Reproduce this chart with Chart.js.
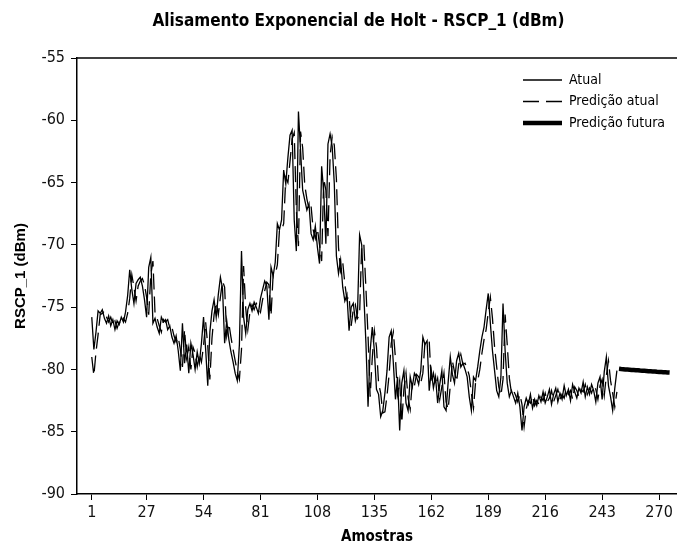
<!DOCTYPE html>
<html lang="pt">
<head>
<meta charset="utf-8">
<title>Alisamento Exponencial de Holt - RSCP_1</title>
<script src="https://cdn.jsdelivr.net/npm/chart.js@4.4.1/dist/chart.umd.min.js"></script>
<style>
  html, body { margin: 0; padding: 0; background: #fff; }
  #wrap { width: 677px; height: 546px; }
</style>
</head>
<body>
<div id="wrap"><canvas id="holtChart" width="677" height="546"></canvas></div>
<script>
// RSCP_1 (dBm) por amostra: medido, previsto no ajuste e previsão futura (Holt)
const titulo = 'Alisamento Exponencial de Holt - RSCP_1 (dBm)';
const xTicks = [1, 27, 54, 81, 108, 135, 162, 189, 216, 243, 270];
const yTicks = [-90, -85, -80, -75, -70, -65, -60, -55];
const rotulos = ['Atual', 'Predição atual', 'Predição futura'];

const atual = [
  -75.8, -78.4, -77.0, -75.3, -75.5, -75.2, -75.9, -76.3, -75.7, -76.5,
  -76.0, -76.8, -76.1, -76.4, -75.8, -76.2, -75.4, -74.1, -72.0, -73.6,
  -74.7, -73.1, -72.8, -72.6, -73.3, -74.4, -75.8, -71.8, -71.0, -76.3,
  -75.9, -76.6, -77.1, -75.8, -76.2, -76.0, -76.8, -76.5, -77.4, -77.9,
  -77.3, -78.5, -80.1, -76.3, -79.5, -78.0, -80.3, -77.9, -78.8, -80.0,
  -78.6, -79.5, -77.9, -75.8, -78.4, -81.3, -77.0, -75.3, -74.4, -75.8,
  -74.0, -72.6, -73.5, -77.9, -76.1, -77.6, -78.6, -79.4, -80.3, -80.9,
  -78.0, -70.5, -75.8, -77.1, -75.2, -74.7, -75.3, -74.6, -75.0, -75.5,
  -74.3, -73.6, -72.9, -73.3, -76.0, -71.8, -72.5, -71.4, -68.3, -68.8,
  -68.0, -64.0, -65.1, -63.0, -61.2, -60.8, -68.0, -70.5, -59.3, -62.4,
  -65.6, -66.4, -67.2, -66.7, -69.1, -69.6, -68.5, -70.2, -71.5, -63.7,
  -65.8, -69.9, -61.9, -61.1, -62.1, -65.1, -70.9, -72.3, -71.2, -73.4,
  -74.5, -74.0, -76.9, -75.0, -74.7, -76.1, -75.5, -69.2, -70.0, -74.0,
  -77.9, -83.0, -78.5, -76.6, -78.5, -81.6, -82.0, -83.8, -83.3, -81.9,
  -80.1, -77.4, -76.9, -79.5, -82.4, -80.6, -84.9, -81.1, -80.1, -82.7,
  -83.3, -80.6, -81.4, -80.3, -80.6, -81.2, -80.1, -77.4, -78.0, -77.7,
  -81.7, -80.1, -81.5, -80.6, -82.7, -81.2, -80.1, -83.0, -83.3, -81.0,
  -79.0, -80.4, -81.1, -79.3, -78.7, -79.8, -79.5, -80.0, -80.6, -82.2,
  -83.3, -80.6, -80.9, -79.8, -78.5, -77.4, -76.6, -75.2, -73.9, -76.3,
  -78.5, -80.1, -81.7, -82.2, -80.6, -74.7, -78.5, -81.1, -82.2, -81.7,
  -82.2, -82.7, -81.9, -83.0, -84.9, -83.0, -82.3, -82.8, -82.0, -83.1,
  -82.4, -82.9, -82.1, -82.6, -81.8, -82.7, -82.2, -81.6, -82.8, -82.0,
  -81.5, -82.6, -81.9, -82.4, -81.3, -82.1, -81.6, -82.5, -81.2, -81.8,
  -82.3, -81.5, -81.9, -81.0, -82.2, -81.4, -82.0, -81.2, -81.7, -82.6,
  -81.1, -80.6, -82.4, -80.2, -79.0, -81.3, -82.2, -83.3, -81.5, -80.1
];

const predAtual = [
  -79.0, -80.5, -78.6, -77.2, -75.6, -75.5, -75.3, -75.8, -76.2, -75.8,
  -76.4, -76.1, -76.7, -76.2, -76.4, -75.9, -76.2, -75.5, -74.3, -72.4,
  -73.4, -74.5, -73.3, -72.9, -72.7, -73.2, -74.2, -75.6, -72.4, -71.3,
  -75.5, -75.9, -76.5, -77.0, -76.0, -76.2, -76.0, -76.7, -76.6, -77.3,
  -77.8, -77.4, -78.4, -79.8, -76.8, -79.1, -78.2, -80.0, -78.2, -78.7,
  -79.8, -78.8, -79.4, -78.1, -76.2, -78.1, -80.8, -77.5, -75.6, -74.6,
  -75.6, -74.2, -72.9, -73.4, -77.3, -76.3, -77.4, -78.4, -79.3, -80.2,
  -80.8, -78.4, -71.7, -75.1, -76.8, -75.4, -74.8, -75.2, -74.7, -75.0,
  -75.4, -74.4, -73.7, -73.0, -73.2, -75.7, -72.4, -72.4, -71.6, -68.8,
  -68.8, -68.3, -64.6, -65.0, -63.3, -61.5, -61.0, -67.1, -70.1, -60.9,
  -62.2, -65.2, -66.3, -67.1, -66.9, -68.8, -69.5, -68.7, -70.0, -71.3,
  -64.7, -65.6, -69.3, -62.9, -61.3, -62.0, -64.7, -70.2, -72.1, -71.4,
  -73.1, -74.4, -74.1, -76.5, -75.2, -74.8, -75.9, -75.6, -70.0, -69.9,
  -73.5, -77.3, -82.2, -79.1, -76.9, -78.2, -81.1, -81.9, -83.5, -83.4,
  -82.1, -80.4, -77.9, -77.0, -79.1, -82.0, -80.9, -84.3, -81.6, -80.3,
  -82.3, -83.2, -81.0, -81.3, -80.4, -80.6, -81.1, -80.3, -77.8, -77.9,
  -77.7, -81.1, -80.3, -81.3, -80.7, -82.4, -81.4, -80.3, -82.6, -83.2,
  -81.3, -79.3, -80.2, -81.0, -79.6, -78.8, -79.6, -79.5, -79.9, -80.5,
  -81.9, -83.1, -81.0, -80.9, -80.0, -78.7, -77.6, -76.8, -75.4, -74.2,
  -75.9, -78.2, -79.8, -81.4, -82.1, -80.8, -75.6, -78.0, -80.7, -81.9,
  -81.7, -82.1, -82.6, -82.0, -82.8, -84.6, -83.2, -82.5, -82.7, -82.1,
  -82.9, -82.5, -82.8, -82.2, -82.5, -81.9, -82.6, -82.3, -81.7, -82.6,
  -82.1, -81.6, -82.4, -82.0, -82.3, -81.5, -82.0, -81.7, -82.4, -81.4,
  -81.7, -82.2, -81.6, -81.8, -81.2, -82.0, -81.5, -81.9, -81.3, -81.6,
  -82.4, -81.3, -80.8, -82.1, -80.5, -79.3, -80.9, -81.9, -83.0, -81.8
];

const inicioFutura = 251;
const predFutura = [
  -79.95, -79.97, -79.98, -80.00, -80.01, -80.02, -80.04, -80.05, -80.06, -80.07,
  -80.09, -80.10, -80.11, -80.12, -80.14, -80.15, -80.16, -80.17, -80.19, -80.20,
  -80.21, -80.22, -80.23, -80.24, -80.25
];

const fonte = "'DejaVu Sans Condensed', 'DejaVu Sans', sans-serif";

function pontos(valores, primeiro) {
  return valores.map((v, i) => ({ x: primeiro + i, y: v }));
}

// titulo e moldura superior
const molduraTitulo = {
  id: 'molduraTitulo',
  afterDraw(chart) {
    const { ctx, chartArea } = chart;
    ctx.save();
    ctx.strokeStyle = '#000';
    ctx.lineWidth = 1.5;
    ctx.beginPath();
    ctx.moveTo(chartArea.left, chartArea.top);
    ctx.lineTo(chartArea.right, chartArea.top);
    ctx.stroke();
    ctx.fillStyle = '#000';
    ctx.font = 'bold 17px ' + fonte;
    ctx.textAlign = 'center';
    ctx.textBaseline = 'middle';
    ctx.fillText(titulo, chart.width / 2 + 20, 22);
    ctx.restore();
  }
};

// legenda dentro da area do grafico, canto superior direito
const legendaInterna = {
  id: 'legendaInterna',
  afterDatasetsDraw(chart) {
    const { ctx, chartArea } = chart;
    const x0 = chartArea.right - 154;
    const y0 = chartArea.top + 22;
    ctx.save();
    ctx.font = '14px ' + fonte;
    ctx.textBaseline = 'middle';
    ctx.fillStyle = '#000';
    chart.data.datasets.forEach((ds, i) => {
      const y = y0 + i * 21.5;
      ctx.strokeStyle = ds.borderColor;
      ctx.lineWidth = ds.borderWidth;
      ctx.setLineDash(ds.borderDash || []);
      ctx.beginPath();
      ctx.moveTo(x0, y);
      ctx.lineTo(x0 + 39, y);
      ctx.stroke();
      ctx.setLineDash([]);
      ctx.fillText(ds.label, x0 + 46, y);
    });
    ctx.restore();
  }
};

const ctx = document.getElementById('holtChart').getContext('2d');
new Chart(ctx, {
  type: 'line',
  data: {
    datasets: [
      { label: rotulos[0], data: pontos(atual, 1), borderColor: '#000', borderWidth: 1.3 },
      { label: rotulos[1], data: pontos(predAtual, 1), borderColor: '#000', borderWidth: 1.3, borderDash: [16, 7] },
      { label: rotulos[2], data: pontos(predFutura, inicioFutura), borderColor: '#000', borderWidth: 4.5 }
    ]
  },
  options: {
    responsive: false,
    animation: false,
    devicePixelRatio: 1,
    layout: { padding: { top: 58, right: 0, bottom: 0, left: 0 } },
    elements: { point: { radius: 0 }, line: { tension: 0, fill: false } },
    plugins: { legend: { display: false }, tooltip: { enabled: false }, title: { display: false } },
    scales: {
      x: {
        type: 'linear',
        min: -6,
        max: 278.5,
        afterBuildTicks: s => { s.ticks = xTicks.map(v => ({ value: v })); },
        afterFit: s => { s.height = 52; },
        ticks: { autoSkip: false, maxRotation: 0, padding: 3, color: '#111', font: { family: fonte, size: 16 } },
        grid: { drawOnChartArea: false, tickLength: 6, color: '#000', lineWidth: 1 },
        border: { color: '#000', width: 1.5 },
        title: { display: true, text: 'Amostras', color: '#000', padding: { top: 0, bottom: 0 },
                 font: { family: fonte, size: 15, weight: 'bold' } }
      },
      y: {
        min: -90,
        max: -55,
        afterBuildTicks: s => { s.ticks = yTicks.map(v => ({ value: v })); },
        afterFit: s => { s.width = 77; },
        ticks: { padding: 6, color: '#111', font: { family: fonte, size: 16 } },
        grid: { drawOnChartArea: false, tickLength: 6, color: '#000', lineWidth: 1 },
        border: { color: '#000', width: 1.5 },
        title: { display: true, text: 'RSCP_1 (dBm)', color: '#000', padding: { top: 12, bottom: 0 },
                 font: { family: "'Liberation Sans', Arial, sans-serif", size: 15, weight: 'bold' } }
      }
    }
  },
  plugins: [molduraTitulo, legendaInterna]
});
</script>
</body>
</html>
